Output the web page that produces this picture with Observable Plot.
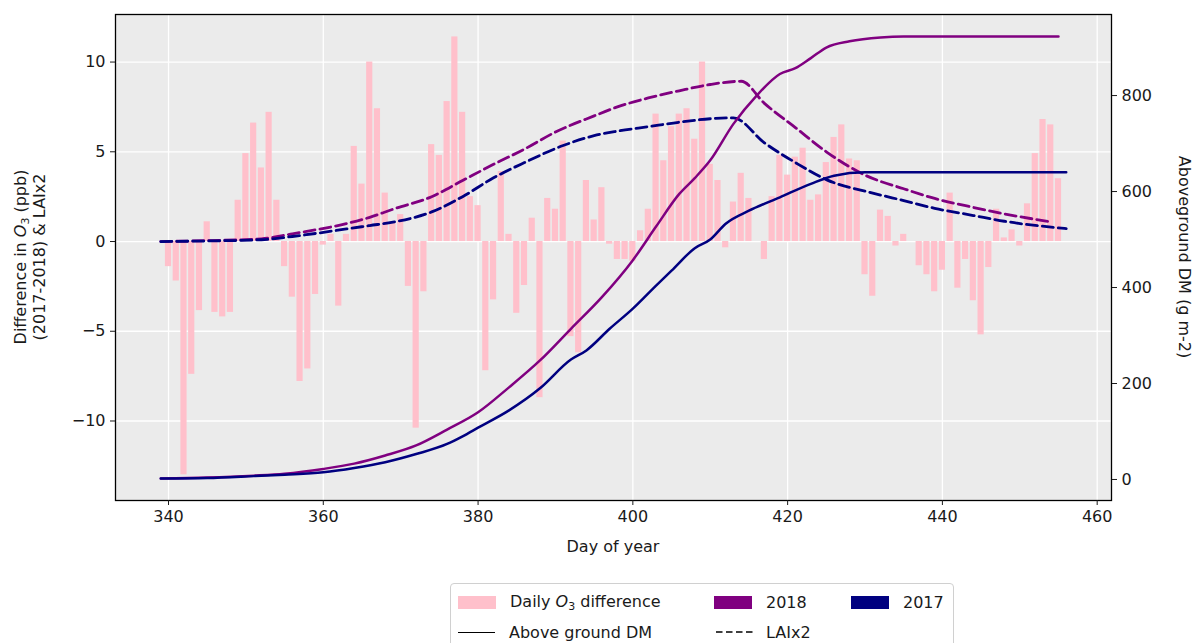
<!DOCTYPE html>
<html><head><meta charset="utf-8">
<script src="https://cdn.jsdelivr.net/npm/d3@7"></script>
<script src="https://cdn.jsdelivr.net/npm/@observablehq/plot@0.6"></script>
<style>
body{margin:0;background:#fff;font-family:"DejaVu Sans",sans-serif;}
#wrap{position:relative;width:1197px;height:643px;overflow:hidden;}
#legend{position:absolute;left:450px;top:583px;width:502px;height:80px;border:1px solid #d0d0d0;border-radius:4px;background:#fff;font-size:16px;color:#1a1a1a;}
.sw{position:absolute;height:13px;width:38px;}
.lt{position:absolute;white-space:nowrap;transform:translateY(-50%);line-height:1;}
.ln{position:absolute;width:37px;height:0;}
</style></head>
<body><div id="wrap"><div id="chart"></div>
<div id="legend">
  <div class="sw" style="left:7px;top:12px;background:#FFC0CB"></div>
  <div class="lt" style="left:59px;top:19px">Daily <i>O</i><sub style="font-size:11px;vertical-align:-3px">3</sub> difference</div>
  <div class="sw" style="left:263px;top:12px;background:#800080"></div>
  <div class="lt" style="left:315px;top:19px">2018</div>
  <div class="sw" style="left:400px;top:12px;background:#000080"></div>
  <div class="lt" style="left:452px;top:19px">2017</div>
  <div class="ln" style="left:7px;top:48px;border-top:1.5px solid #000"></div>
  <div class="lt" style="left:58px;top:49px">Above ground DM</div>
  <svg style="position:absolute;left:265px;top:45px" width="40" height="6"><line x1="0" y1="3" x2="37" y2="3" stroke="#000" stroke-width="1.5" stroke-dasharray="6.5,3.5"/></svg>
  <div class="lt" style="left:315px;top:49px">LAIx2</div>
</div></div>
<script>
// Daily O3 difference (2017-2018), ppb, days 340..455
const barStartDay = 340;
const o3Diff = [
 -1.4,-2.2,-13.0,-7.4,-3.85,1.1,-3.95,-4.2,-3.95,2.3,
 4.9,6.6,4.1,7.2,2.3,-1.4,-3.1,-7.8,-7.1,-2.95,
 -0.2,0.4,-3.6,0.4,5.3,3.2,10.0,7.4,2.7,1.1,
 1.5,-2.5,-10.4,-2.8,5.4,4.8,7.8,11.4,7.2,2.5,
 2.0,-7.2,-3.25,3.9,0.4,-4.0,-2.45,1.3,-8.7,2.4,
 1.8,5.6,-5.3,-6.2,3.4,1.2,3.0,-0.15,-1.0,-1.0,
 -1.1,0.6,1.8,7.1,4.5,6.4,7.1,7.4,5.7,10.0,
 4.3,3.4,-0.35,2.2,3.8,2.4,0,-1.0,2.5,4.8,
 3.7,4.7,5.2,2.3,2.6,4.4,5.8,6.5,4.6,4.5,
 -1.85,-3.05,1.75,1.4,-0.25,0.4,0,-1.35,-1.85,-2.8,
 -1.6,2.7,-2.6,-1.0,-3.3,-5.2,-1.45,1.8,0.2,0.65,
 -0.25,2.1,4.9,6.8,6.5,3.5
];
// Aboveground DM (g m-2)
const dm2018Day = [339,345,351,355,360,364,368,372,376,380,384,388,392,396,400,403,406,408,410,413,416,419,421,423,425,428,432,435,455];
const dm2018    = [2,4,8,12,22,33,50,71,104,140,192,248,314,380,457,527,595,628,665,741,800,845,857,878,900,913,921,923,923];
const dm2017Day = [339,345,351,355,360,364,368,372,376,378,380,384,388,392,394,397,400,403,405,408,410,412,415,419,423,426,430,456];
const dm2017    = [2,3,7,10,15,24,36,53,74,90,108,144,190,250,269,314,356,404,435,482,500,533,560,588,616,633,640,640];
// LAI x 2
const lai2018Day = [339,345,352,356,359,363,366,369,374,378,382,386,390,395,398,402,406,410,414,417,421,425,430,435,439,444,448,454];
const lai2018    = [0,0.05,0.15,0.43,0.65,1.0,1.35,1.8,2.5,3.4,4.3,5.15,6.1,7.0,7.5,8.0,8.4,8.75,8.93,7.7,6.35,5.0,3.7,2.94,2.4,1.9,1.54,1.1];
const lai2017Day = [339,345,352,356,363,366,369,374,378,382,386,391,395,398,402,406,410,413,417,421,425,431,435,439,444,448,456];
const lai2017    = [0,0.03,0.1,0.28,0.7,0.89,1.08,1.65,2.5,3.55,4.4,5.35,5.9,6.15,6.4,6.65,6.84,6.89,5.5,4.4,3.45,2.7,2.28,1.85,1.45,1.13,0.72];
// ticks
const xTicks = [340,360,380,400,420,440,460];
const leftTicks = [-10,-5,0,5,10];
const rightTicks = [0,200,400,600,800];

// right axis (DM) mapped onto left-axis units
const A = -13.259, B = 0.026741;
const toLeft = v => A + B*v;
const fromLeft = v => (v - A)/B;

const bars = o3Diff.map((v,i)=>({day: barStartDay+i, v}));
const mk = (days, vals) => days.map((d,i)=>({day:d, v:vals[i]}));
const d18 = mk(dm2018Day, dm2018), d17 = mk(dm2017Day, dm2017);
const l18 = mk(lai2018Day, lai2018), l17 = mk(lai2017Day, lai2017);

const plot = Plot.plot({
  width: 1197, height: 565,
  marginLeft: 115, marginRight: 86, marginTop: 14, marginBottom: 65,
  x: {domain: [333.15, 461.85]},
  y: {domain: [-14.43, 12.65]},
  style: {fontFamily: "DejaVu Sans", fontSize: "16px", color: "#1a1a1a", background: "transparent", overflow: "visible"},
  marks: [
    Plot.frame({fill: "#EBEBEB", stroke: null}),
    Plot.gridX(xTicks, {stroke: "#fff", strokeOpacity: 1, strokeWidth: 1.3}),
    Plot.gridY(leftTicks, {stroke: "#fff", strokeOpacity: 1, strokeWidth: 1.3}),
    Plot.rect(bars, {x1: d=>d.day-0.4, x2: d=>d.day+0.4, y1: 0, y2: "v", fill: "#FFC0CB"}),
    Plot.line(l18, {x: "day", y: "v", stroke: "#800080", strokeWidth: 2.8, strokeDasharray: "11,5", curve: "monotone-x"}),
    Plot.line(l17, {x: "day", y: "v", stroke: "#000080", strokeWidth: 2.8, strokeDasharray: "11,5", curve: "monotone-x"}),
    Plot.line(d18, {x: "day", y: d=>toLeft(d.v), stroke: "#800080", strokeWidth: 2.5, curve: "monotone-x"}),
    Plot.line(d17, {x: "day", y: d=>toLeft(d.v), stroke: "#000080", strokeWidth: 2.5, curve: "monotone-x"}),
    Plot.frame({stroke: "#000", strokeWidth: 1.3}),
    Plot.axisX(xTicks, {tickSize: 5, tickPadding: 5, label: null, tickFormat: d=>String(d)}),
    Plot.axisY(leftTicks, {anchor: "left", tickSize: 5, tickPadding: 5, label: null}),
    Plot.axisY(rightTicks.map(toLeft), {anchor: "right", tickSize: 5, tickPadding: 5, label: null, tickFormat: d=>String(Math.round(fromLeft(d)))})
  ]
});
document.getElementById("chart").appendChild(plot);

const svg = d3.select(plot);
const fs = 16;
svg.append("text").attr("x", 613).attr("y", 552).attr("text-anchor","middle")
  .attr("font-size", fs).attr("fill","#1a1a1a").text("Day of year");
const t1 = svg.append("text").attr("transform","translate(26,257) rotate(-90)").attr("text-anchor","middle").attr("font-size", fs).attr("fill","#1a1a1a");
t1.append("tspan").text("Difference in ");
t1.append("tspan").attr("font-style","italic").text("O");
t1.append("tspan").attr("font-size", 11).attr("dy", 3).text("3");
t1.append("tspan").attr("dy", -3).text(" (ppb)");
svg.append("text").attr("transform","translate(45,257) rotate(-90)").attr("text-anchor","middle")
  .attr("font-size", fs).attr("fill","#1a1a1a").text("(2017-2018) & LAIx2");
svg.append("text").attr("transform","translate(1179,257) rotate(90)").attr("text-anchor","middle")
  .attr("font-size", fs).attr("fill","#1a1a1a").text("Aboveground DM (g m-2)");
</script></body></html>
